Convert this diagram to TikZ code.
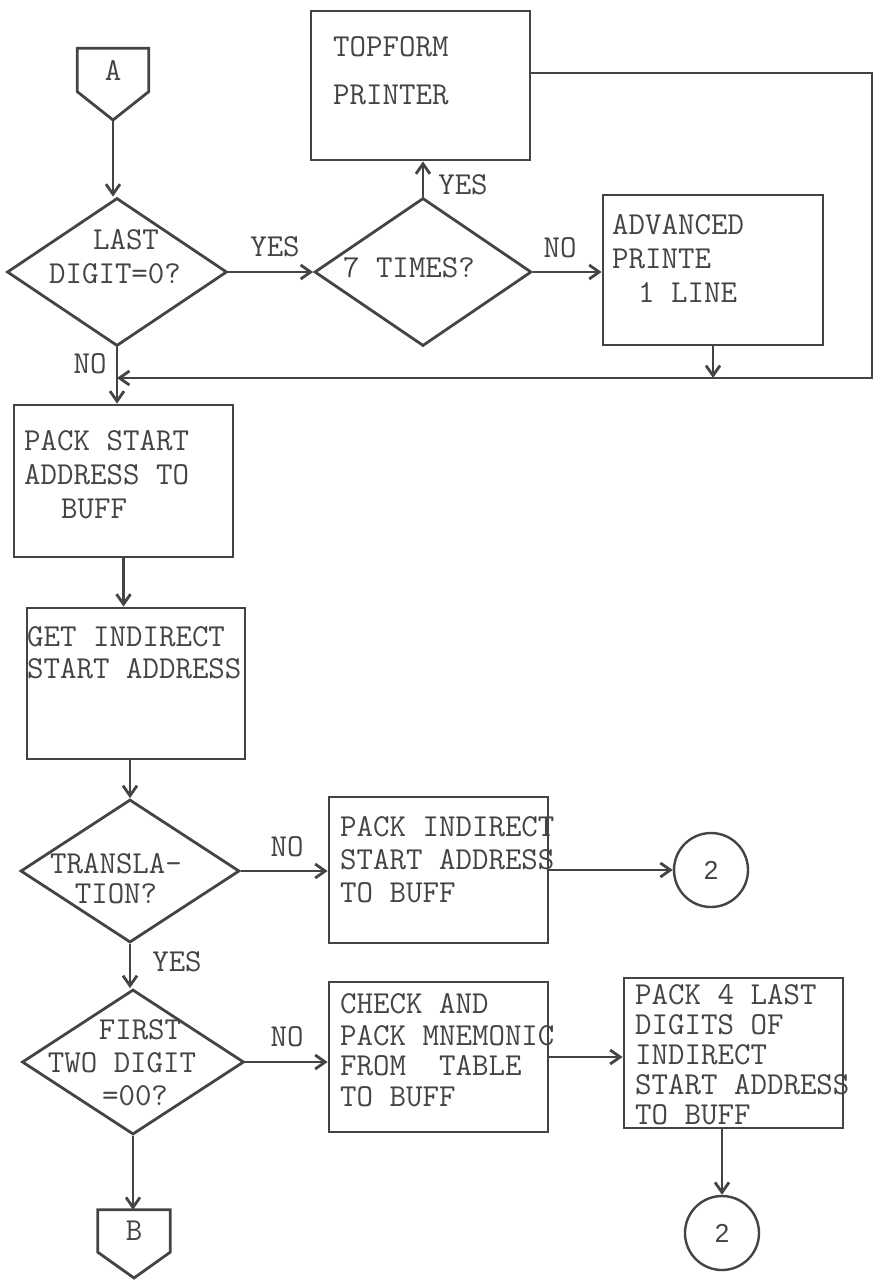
\documentclass[tikz,border=0pt]{standalone}
\usepackage{fontspec}
\setsansfont{Liberation Sans}
\usetikzlibrary{arrows.meta, positioning, shapes.geometric, calc}
\definecolor{ink}{HTML}{444444}

\begin{document}
\begin{tikzpicture}[x=1pt, y=-1pt, font=\ttfamily\fontsize{32}{34}\selectfont, >={Straight Barb[length=10pt,width=14pt]}]
  % Styles
  \tikzset{
    box/.style={draw=ink, line width=2.8pt, minimum width=219pt, minimum height=150pt, inner sep=0pt},
    dec/.style={diamond, draw=ink, line width=2.8pt, minimum width=219pt, minimum height=146pt, inner sep=0pt},
    txt/.style={text=ink, align=left, anchor=west, inner sep=0pt},
    ctr/.style={text=ink, align=center, inner sep=0pt},
    lbl/.style={text=ink, inner sep=0pt},
    offpg/.style={text=ink, minimum width=71pt, minimum height=43pt, inner sep=0pt},
    conn/.style={circle, draw=ink, line width=2.4pt, minimum size=74pt, inner sep=0pt, text=ink, font=\sffamily\fontsize{26}{30}\selectfont},
    edge/.style={draw=ink, line width=2.8pt},
    arrow/.style={edge, ->}
  }
  \useasboundingbox (0,0) rectangle (881,1280);

  % Nodes
  \node[offpg] (A) at (113,70) {A};
  \coordinate (Atip) at (113,120);
  \node[dec, minimum width=220pt, minimum height=148pt] (last) at (117,272) {};
  \node[ctr] (lastT) at (115,257) {\hspace*{22pt}LAST\\DIGIT=0?};
  \node[dec, minimum width=217pt, minimum height=148pt] (times) at (423,272) {};
  \node[ctr] (timesT) at (409,268) {7 TIMES?};
  \node[box, minimum height=149pt] (topform) at (420.5,85.5) {};
  \node[txt] (topformT) at (333,71) {TOPFORM\\[14pt]PRINTER};
  \node[box, minimum width=220pt] (adv) at (713,270) {};
  \node[txt] (advT) at (612,258) {ADVANCED\\PRINTE\\\hspace*{26pt}1 LINE};
  \coordinate (merge) at (117,378);
  \coordinate (rt) at (872,73);

  \node[box, minimum height=152pt] (packst) at (123.5,481) {};
  \node[txt] (packstT) at (24,475) {PACK START\\ADDRESS TO\\\hspace*{37pt}BUFF};
  \node[box, minimum width=218pt, minimum height=151pt] (getind) at (136,683.5) {};
  \node[txt] (getindT) at (27,653) {GET INDIRECT\\[-2pt]START ADDRESS};

  \node[dec, minimum height=143pt] (transl) at (130,871) {};
  \node[ctr] (translT) at (116,879) {TRANSLA-\\[-4pt]TION?};
  \node[box, minimum height=146pt] (packind) at (438.5,870) {};
  \node[txt] (packindT) at (340,859.5) {PACK INDIRECT\\[-1pt]START ADDRESS\\[-1pt]TO BUFF};
  \node[conn] (two1) at (711,870) {2};

  \node[dec, minimum width=222pt, minimum height=145pt] (first) at (133,1062) {};
  \node[ctr] (firstT) at (122,1063) {\hspace*{36pt}FIRST\\[-1pt]TWO DIGIT\\[-1pt]\hspace*{26pt}=00?};
  \node[box] (check) at (438.5,1057) {};
  \node[txt] (checkT) at (340,1050) {CHECK AND\\[-2pt]PACK MNEMONIC\\[-4pt]FROM\ \ TABLE\\[-3pt]TO BUFF};
  \node[box] (pack4) at (733.5,1053) {};
  \node[txt] (pack4T) at (635,1055) {PACK 4 LAST\\[-4pt]DIGITS OF\\[-4pt]INDIRECT\\[-4pt]START ADDRESS\\[-4pt]TO BUFF};
  \node[conn] (two2) at (722,1233) {2};
  \node[offpg, minimum width=72pt, minimum height=42pt] (B) at (134,1231) {B};
  \coordinate (Btip) at (134,1278);

  % Labels
  \node[lbl] (yes1) at (275,247) {YES};
  \node[lbl] (yes2) at (463,185) {YES};
  \node[lbl] (no1) at (560,248) {NO};
  \node[lbl] (no2) at (90,364) {NO};
  \node[lbl] (no3) at (287,847) {NO};
  \node[lbl] (yes3) at (177,962) {YES};
  \node[lbl] (no4) at (287,1037) {NO};

  % Connector shapes
  \draw[edge] (A.south west) -- (A.north west) -- (A.north east) -- (A.south east) -- (Atip) -- cycle;
  \draw[edge] (B.south west) -- (B.north west) -- (B.north east) -- (B.south east) -- (Btip) -- cycle;

  % Arrows
  \draw[arrow] (Atip) -- (Atip |- last.north);
  \draw[arrow] (last.east) -- (times.west);
  \draw[arrow] (times.north) -- (times.north |- topform.south);
  \draw[arrow] (times.east) -- (times.east -| adv.west);
  \draw[arrow] (topform.east |- rt) -- (rt) |- (merge);
  \draw[arrow] (adv.south) -- (adv.south |- merge);
  \draw[arrow] (last.south) -- (last.south |- packst.north);
  \draw[arrow] (packst.south) -- (packst.south |- getind.north);
  \draw[arrow] (transl.north |- getind.south) -- (transl.north);
  \draw[arrow] (transl.east) -- (transl.east -| packind.west);
  \draw[arrow] (packind.east) -- (two1.west);
  \draw[arrow] (transl.south) -- (transl.south |- first.north);
  \draw[arrow] (first.east) -- (first.east -| check.west);
  \draw[arrow] (check.east) -- (check.east -| pack4.west);
  \draw[arrow] (two2.north |- pack4.south) -- (two2.north);
  \draw[arrow] (first.south) -- (first.south |- B.north);

\end{tikzpicture}
\end{document}
